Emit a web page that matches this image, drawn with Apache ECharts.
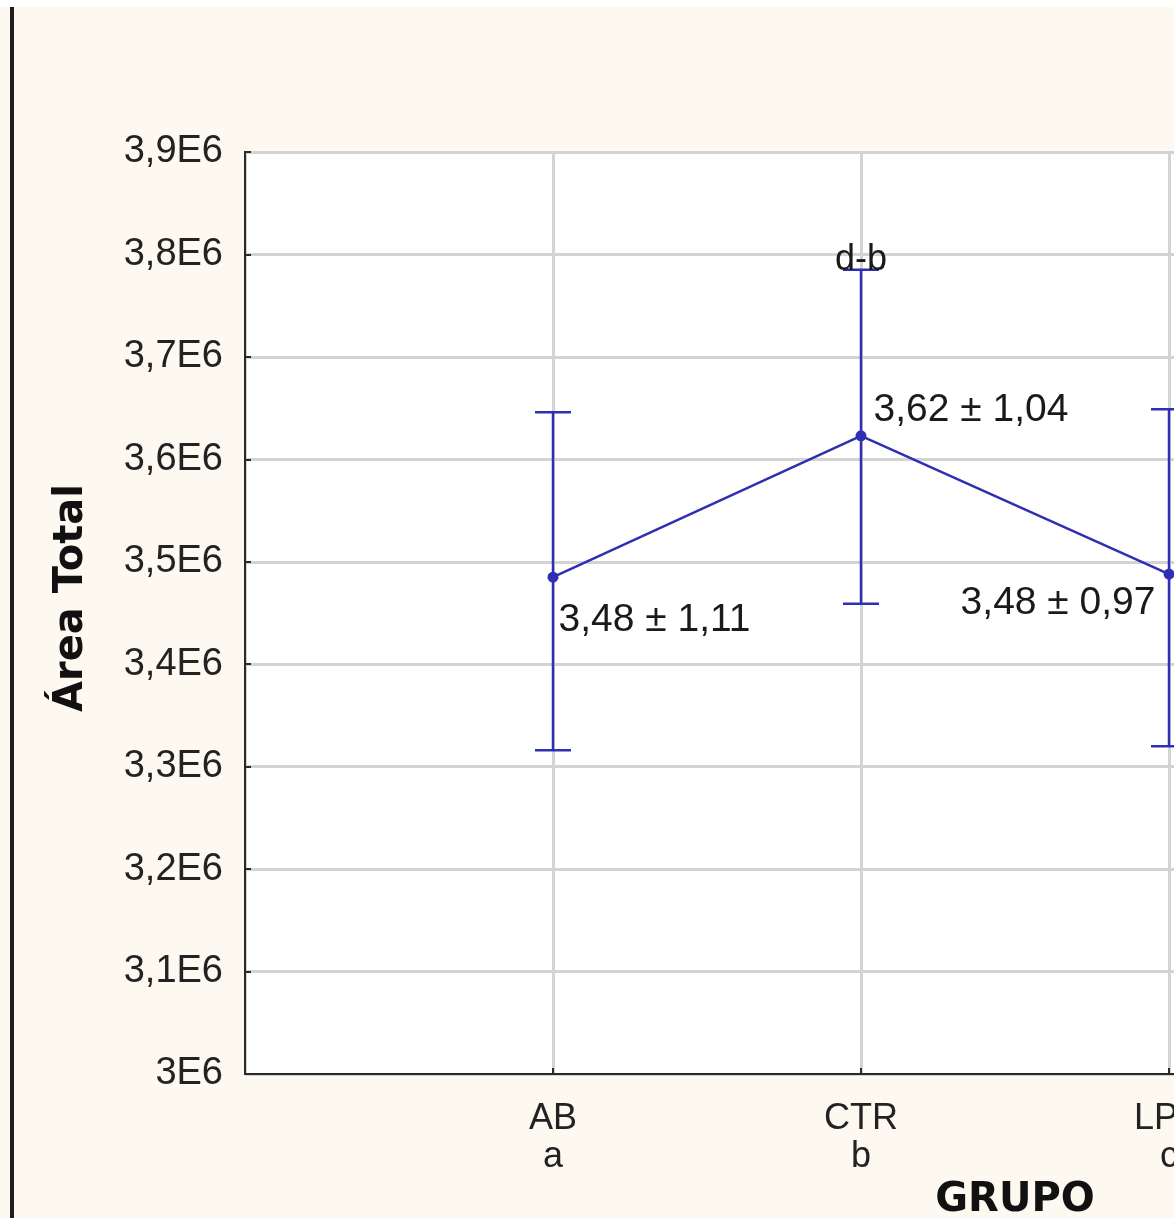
<!DOCTYPE html>
<html>
<head>
<meta charset="utf-8">
<script src="https://cdn.jsdelivr.net/npm/echarts@6/dist/echarts.min.js"></script>
<style>
  html, body { margin: 0; padding: 0; background: #fdf9f1; }
  #chart { width: 1174px; height: 1218px; }
</style>
</head>
<body>
<div id="chart"></div>
<script>
  // grupos (posicion 1..3 en el eje)
  var groups = ['AB', 'CTR', 'LPR'];
  var groupLetters = ['a', 'b', 'c'];
  var means = [3.485e6, 3.623e6, 3.488e6];
  var lows = [3.316e6, 3.459e6, 3.320e6];
  var highs = [3.646e6, 3.785e6, 3.649e6];
  var meanLabels = ['3,48 \u00b1 1,11', '3,62 \u00b1 1,04', '3,48 \u00b1 0,97'];
  var sigLabels = ['', 'd-b', ''];
  var yTicks = ['3E6', '3,1E6', '3,2E6', '3,3E6', '3,4E6', '3,5E6', '3,6E6', '3,7E6', '3,8E6', '3,9E6'];

  var blue = '#2f2fb4';
  var textFont = "'Liberation Sans', Arial, sans-serif";
  var boldFont = "'DejaVu Sans', 'Liberation Sans', sans-serif";

  // donde va cada etiqueta de media respecto al punto
  var labelPlace = [
    { position: 'right', distance: 0, offset: [0, 43] },
    { position: 'right', distance: 7, offset: [0, -26] },
    { position: 'left', distance: 8, offset: [0, 29] }
  ];

  var lineData = means.map(function (m, i) {
    return {
      value: [i + 1, m],
      label: {
        show: true,
        formatter: meanLabels[i],
        position: labelPlace[i].position,
        distance: labelPlace[i].distance,
        offset: labelPlace[i].offset
      }
    };
  });

  var errData = means.map(function (m, i) {
    return [i + 1, lows[i], highs[i], i];
  });

  var myChart = echarts.init(document.getElementById('chart'));
  myChart.setOption({
    animation: false,
    backgroundColor: '#fdf9f1',
    graphic: [
      { type: 'rect', left: 0, top: 0, shape: { width: 1174, height: 7 }, style: { fill: '#ffffff' } },
      { type: 'rect', left: 10, top: 7, shape: { width: 4, height: 1211 }, style: { fill: '#1e1e1e' } }
    ],
    grid: {
      left: 245,
      top: 152,
      width: 1540,
      height: 922,
      outerBoundsMode: 'none',
      containLabel: false,
      show: true,
      backgroundColor: '#ffffff',
      borderColor: '#2a2a2a',
      borderWidth: 2
    },
    xAxis: {
      type: 'value',
      min: 0,
      max: 5,
      interval: 1,
      name: 'GRUPO',
      nameLocation: 'middle',
      nameGap: 105,
      nameTextStyle: { fontFamily: boldFont, fontWeight: 'bold', fontSize: 40, color: '#111' },
      axisLine: { lineStyle: { color: '#2a2a2a', width: 2 } },
      axisTick: { inside: true, length: 6, lineStyle: { color: '#2a2a2a', width: 2 } },
      splitLine: { show: true, lineStyle: { color: '#d3d3d3', width: 3 } },
      axisLabel: {
        margin: 26,
        fontFamily: textFont,
        fontSize: 36,
        lineHeight: 38,
        color: '#222',
        formatter: function (v) {
          var i = v - 1;
          if (i < 0 || i >= groups.length) return '';
          return groups[i] + '\n' + groupLetters[i];
        }
      }
    },
    yAxis: {
      type: 'value',
      min: 3.0e6,
      max: 3.9e6,
      interval: 1e5,
      name: '\u00c1rea Total',
      nameLocation: 'middle',
      nameGap: 153,
      nameTextStyle: { fontFamily: boldFont, fontWeight: 'bold', fontSize: 40, color: '#111', padding: [0, 0, 0, 30] },
      axisLine: { show: true, lineStyle: { color: '#2a2a2a', width: 2 } },
      axisTick: { show: true, inside: true, length: 6, lineStyle: { color: '#2a2a2a', width: 2 } },
      splitLine: { show: true, lineStyle: { color: '#d3d3d3', width: 3 } },
      axisLabel: {
        margin: 22,
        fontFamily: textFont,
        fontSize: 38,
        color: '#222',
        formatter: function (v) {
          return yTicks[Math.round((v - 3.0e6) / 1e5)];
        }
      }
    },
    series: [
      {
        type: 'custom',
        z: 3,
        data: errData,
        renderItem: function (params, api) {
          var x = api.value(0);
          var lo = api.coord([x, api.value(1)]);
          var hi = api.coord([x, api.value(2)]);
          var cap = 18;
          var st = { stroke: blue, lineWidth: 2.5 };
          var kids = [
            { type: 'line', shape: { x1: lo[0], y1: lo[1], x2: hi[0], y2: hi[1] }, style: st },
            { type: 'line', shape: { x1: lo[0] - cap, y1: lo[1], x2: lo[0] + cap, y2: lo[1] }, style: st },
            { type: 'line', shape: { x1: hi[0] - cap, y1: hi[1], x2: hi[0] + cap, y2: hi[1] }, style: st }
          ];
          var s = sigLabels[api.value(3)];
          if (s) {
            kids.push({
              type: 'text',
              z2: 10,
              style: {
                x: hi[0], y: hi[1] - 10, text: s,
                align: 'center', verticalAlign: 'middle',
                font: '36px ' + textFont, fill: '#1a1a1a'
              }
            });
          }
          return { type: 'group', children: kids };
        }
      },
      {
        type: 'line',
        z: 4,
        data: lineData,
        symbol: 'circle',
        symbolSize: 11,
        itemStyle: { color: blue },
        lineStyle: { color: blue, width: 2.5 },
        label: { fontFamily: textFont, fontSize: 39, color: '#1a1a1a' }
      }
    ]
  });
</script>
</body>
</html>
